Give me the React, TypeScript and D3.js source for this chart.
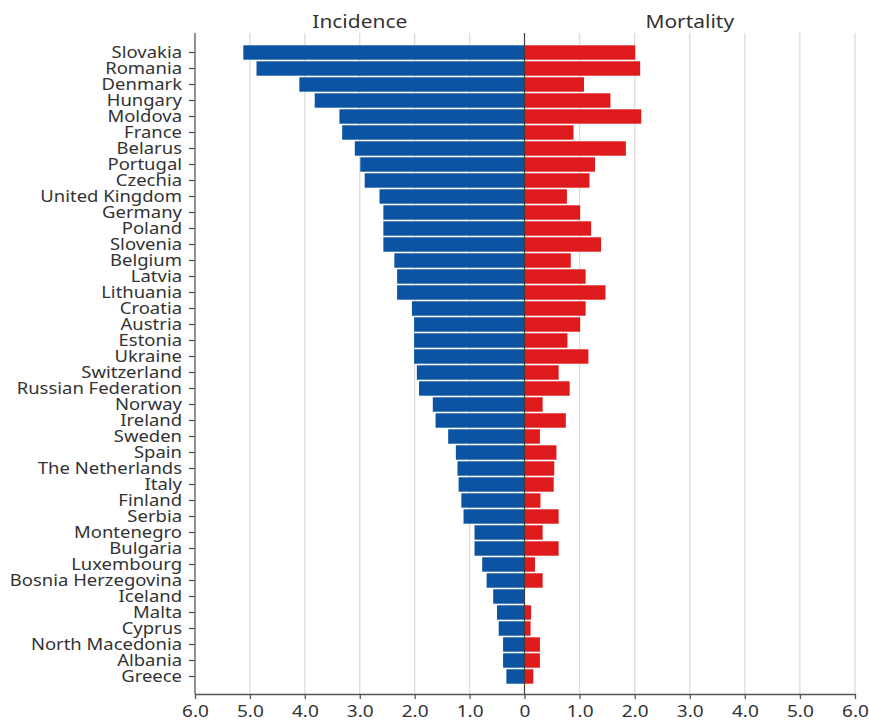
import React, { useEffect, useRef } from "react";
import * as d3 from "d3";

// Countries ordered top to bottom
const countries = [
  "Slovakia", "Romania", "Denmark", "Hungary", "Moldova", "France", "Belarus",
  "Portugal", "Czechia", "United Kingdom", "Germany", "Poland", "Slovenia",
  "Belgium", "Latvia", "Lithuania", "Croatia", "Austria", "Estonia", "Ukraine",
  "Switzerland", "Russian Federation", "Norway", "Ireland", "Sweden", "Spain",
  "The Netherlands", "Italy", "Finland", "Serbia", "Montenegro", "Bulgaria",
  "Luxembourg", "Bosnia Herzegovina", "Iceland", "Malta", "Cyprus",
  "North Macedonia", "Albania", "Greece",
];

const incidence = [
  5.12, 4.88, 4.1, 3.82, 3.37, 3.32, 3.09, 2.99, 2.91, 2.64, 2.57, 2.57, 2.57,
  2.37, 2.32, 2.32, 2.05, 2.01, 2.01, 2.01, 1.96, 1.92, 1.67, 1.62, 1.39, 1.25,
  1.22, 1.2, 1.15, 1.11, 0.91, 0.91, 0.77, 0.69, 0.57, 0.5, 0.47, 0.39, 0.39,
  0.33,
];

const mortality = [
  2.01, 2.1, 1.08, 1.56, 2.12, 0.89, 1.84, 1.28, 1.18, 0.77, 1.01, 1.21, 1.39,
  0.84, 1.11, 1.47, 1.11, 1.01, 0.78, 1.16, 0.62, 0.82, 0.33, 0.75, 0.28, 0.58,
  0.54, 0.53, 0.29, 0.62, 0.33, 0.62, 0.19, 0.33, 0, 0.12, 0.11, 0.28, 0.28,
  0.16,
];

const leftTicks = [1, 2, 3, 4, 5, 6];
const rightTicks = [0, 1, 2, 3, 4, 5, 6];
const panelTitles = ["Incidence", "Mortality"];

const W = 869;
const H = 722;
const FONT = "'Noto Sans', 'Open Sans', sans-serif";
// glyphs are drawn slightly wide
const SX = 1.12;

export default function App() {
  const ref = useRef<SVGSVGElement>(null);

  useEffect(() => {
    const svg = d3.select(ref.current);
    svg.selectAll("*").remove();

    const x0 = 524.5;
    const axisLeft = 195;
    const axisRight = 855;
    const top = 33;
    const bottom = 694;

    const xL = d3.scaleLinear().domain([0, 6]).range([x0, axisLeft]);
    const xR = d3.scaleLinear().domain([0, 6]).range([x0, axisRight]);
    const y = d3
      .scaleBand<string>()
      .domain(countries)
      .range([44.5, 684.5])
      .paddingInner(0.1)
      .paddingOuter(0.05);

    const fmt = (d: number) => (d === 0 ? "0" : d3.format(".1f")(d));

    // gridlines
    const grid = svg.append("g");
    grid
      .selectAll("line.gl")
      .data(leftTicks.slice(0, 5))
      .join("line")
      .attr("class", "gl")
      .attr("x1", (d) => xL(d))
      .attr("x2", (d) => xL(d))
      .attr("y1", top)
      .attr("y2", bottom)
      .attr("stroke", "#dcdcdc")
      .attr("stroke-width", 1.3);
    grid
      .selectAll("line.gr")
      .data(rightTicks.slice(1))
      .join("line")
      .attr("class", "gr")
      .attr("x1", (d) => xR(d))
      .attr("x2", (d) => xR(d))
      .attr("y1", top)
      .attr("y2", bottom)
      .attr("stroke", "#dcdcdc")
      .attr("stroke-width", 1.3);

    const rows = countries.map((c, i) => ({
      c,
      inc: incidence[i],
      mort: mortality[i],
    }));

    // incidence bars (left)
    svg
      .append("g")
      .selectAll("rect")
      .data(rows)
      .join("rect")
      .attr("x", (d) => xL(d.inc))
      .attr("y", (d) => y(d.c)!)
      .attr("width", (d) => x0 - xL(d.inc))
      .attr("height", y.bandwidth())
      .attr("fill", "#0b53a3");

    // mortality bars (right)
    svg
      .append("g")
      .selectAll("rect")
      .data(rows)
      .join("rect")
      .attr("x", x0)
      .attr("y", (d) => y(d.c)!)
      .attr("width", (d) => xR(d.mort) - x0)
      .attr("height", y.bandwidth())
      .attr("fill", "#df1a1d");

    // centre line
    svg
      .append("line")
      .attr("x1", x0)
      .attr("x2", x0)
      .attr("y1", top)
      .attr("y2", bottom)
      .attr("stroke", "#4a3a3a")
      .attr("stroke-width", 1.2);

    // bottom axes
    const styleAxis = (g: d3.Selection<SVGGElement, unknown, null, undefined>) => {
      g.selectAll("path.domain").attr("stroke", "#555").attr("stroke-width", 1.3);
      g.selectAll(".tick line").attr("stroke", "#555").attr("stroke-width", 1.3);
      g.selectAll(".tick text")
        .attr("fill", "#333")
        .attr("font-size", 17)
        .attr("font-family", FONT)
        .attr("dy", null)
        .attr("y", 23)
        .attr("transform", `scale(${SX},1)`);
    };

    const gL = svg
      .append("g")
      .attr("transform", `translate(0,${bottom})`)
      .call(
        d3.axisBottom(xL).tickValues(leftTicks).tickFormat(fmt as any).tickSize(5).tickSizeOuter(0)
      );
    styleAxis(gL);
    const gR = svg
      .append("g")
      .attr("transform", `translate(0,${bottom})`)
      .call(
        d3.axisBottom(xR).tickValues(rightTicks).tickFormat(fmt as any).tickSize(5).tickSizeOuter(0)
      );
    styleAxis(gR);

    // category axis
    const yAxis = svg
      .append("g")
      .attr("transform", `translate(${axisLeft},0)`)
      .call(d3.axisLeft(y).tickSize(6).tickPadding(7).tickSizeOuter(0));
    yAxis.select("path.domain").remove();
    yAxis
      .append("line")
      .attr("x1", 0)
      .attr("x2", 0)
      .attr("y1", top)
      .attr("y2", bottom)
      .attr("stroke", "#555")
      .attr("stroke-width", 1.3);
    yAxis.selectAll(".tick line").attr("stroke", "#555").attr("stroke-width", 1.3);
    yAxis
      .selectAll(".tick text")
      .attr("fill", "#333")
      .attr("font-size", 16.5)
      .attr("font-family", FONT)
      .attr("x", -13 / SX)
      .attr("transform", `scale(${SX},1)`);

    // panel titles
    svg
      .append("g")
      .selectAll("text")
      .data(panelTitles)
      .join("text")
      .attr(
        "transform",
        (_, i) =>
          `translate(${i === 0 ? (axisLeft + x0) / 2 : (x0 + axisRight) / 2},28) scale(${SX},1)`
      )
      .attr("text-anchor", "middle")
      .attr("fill", "#333")
      .attr("font-size", 18.7)
      .attr("font-family", FONT)
      .text((d) => d);
  }, []);

  return (
    <svg
      ref={ref}
      width={W}
      height={H}
      style={{ position: "absolute", left: 0, top: 0, background: "#fff" }}
    />
  );
}
